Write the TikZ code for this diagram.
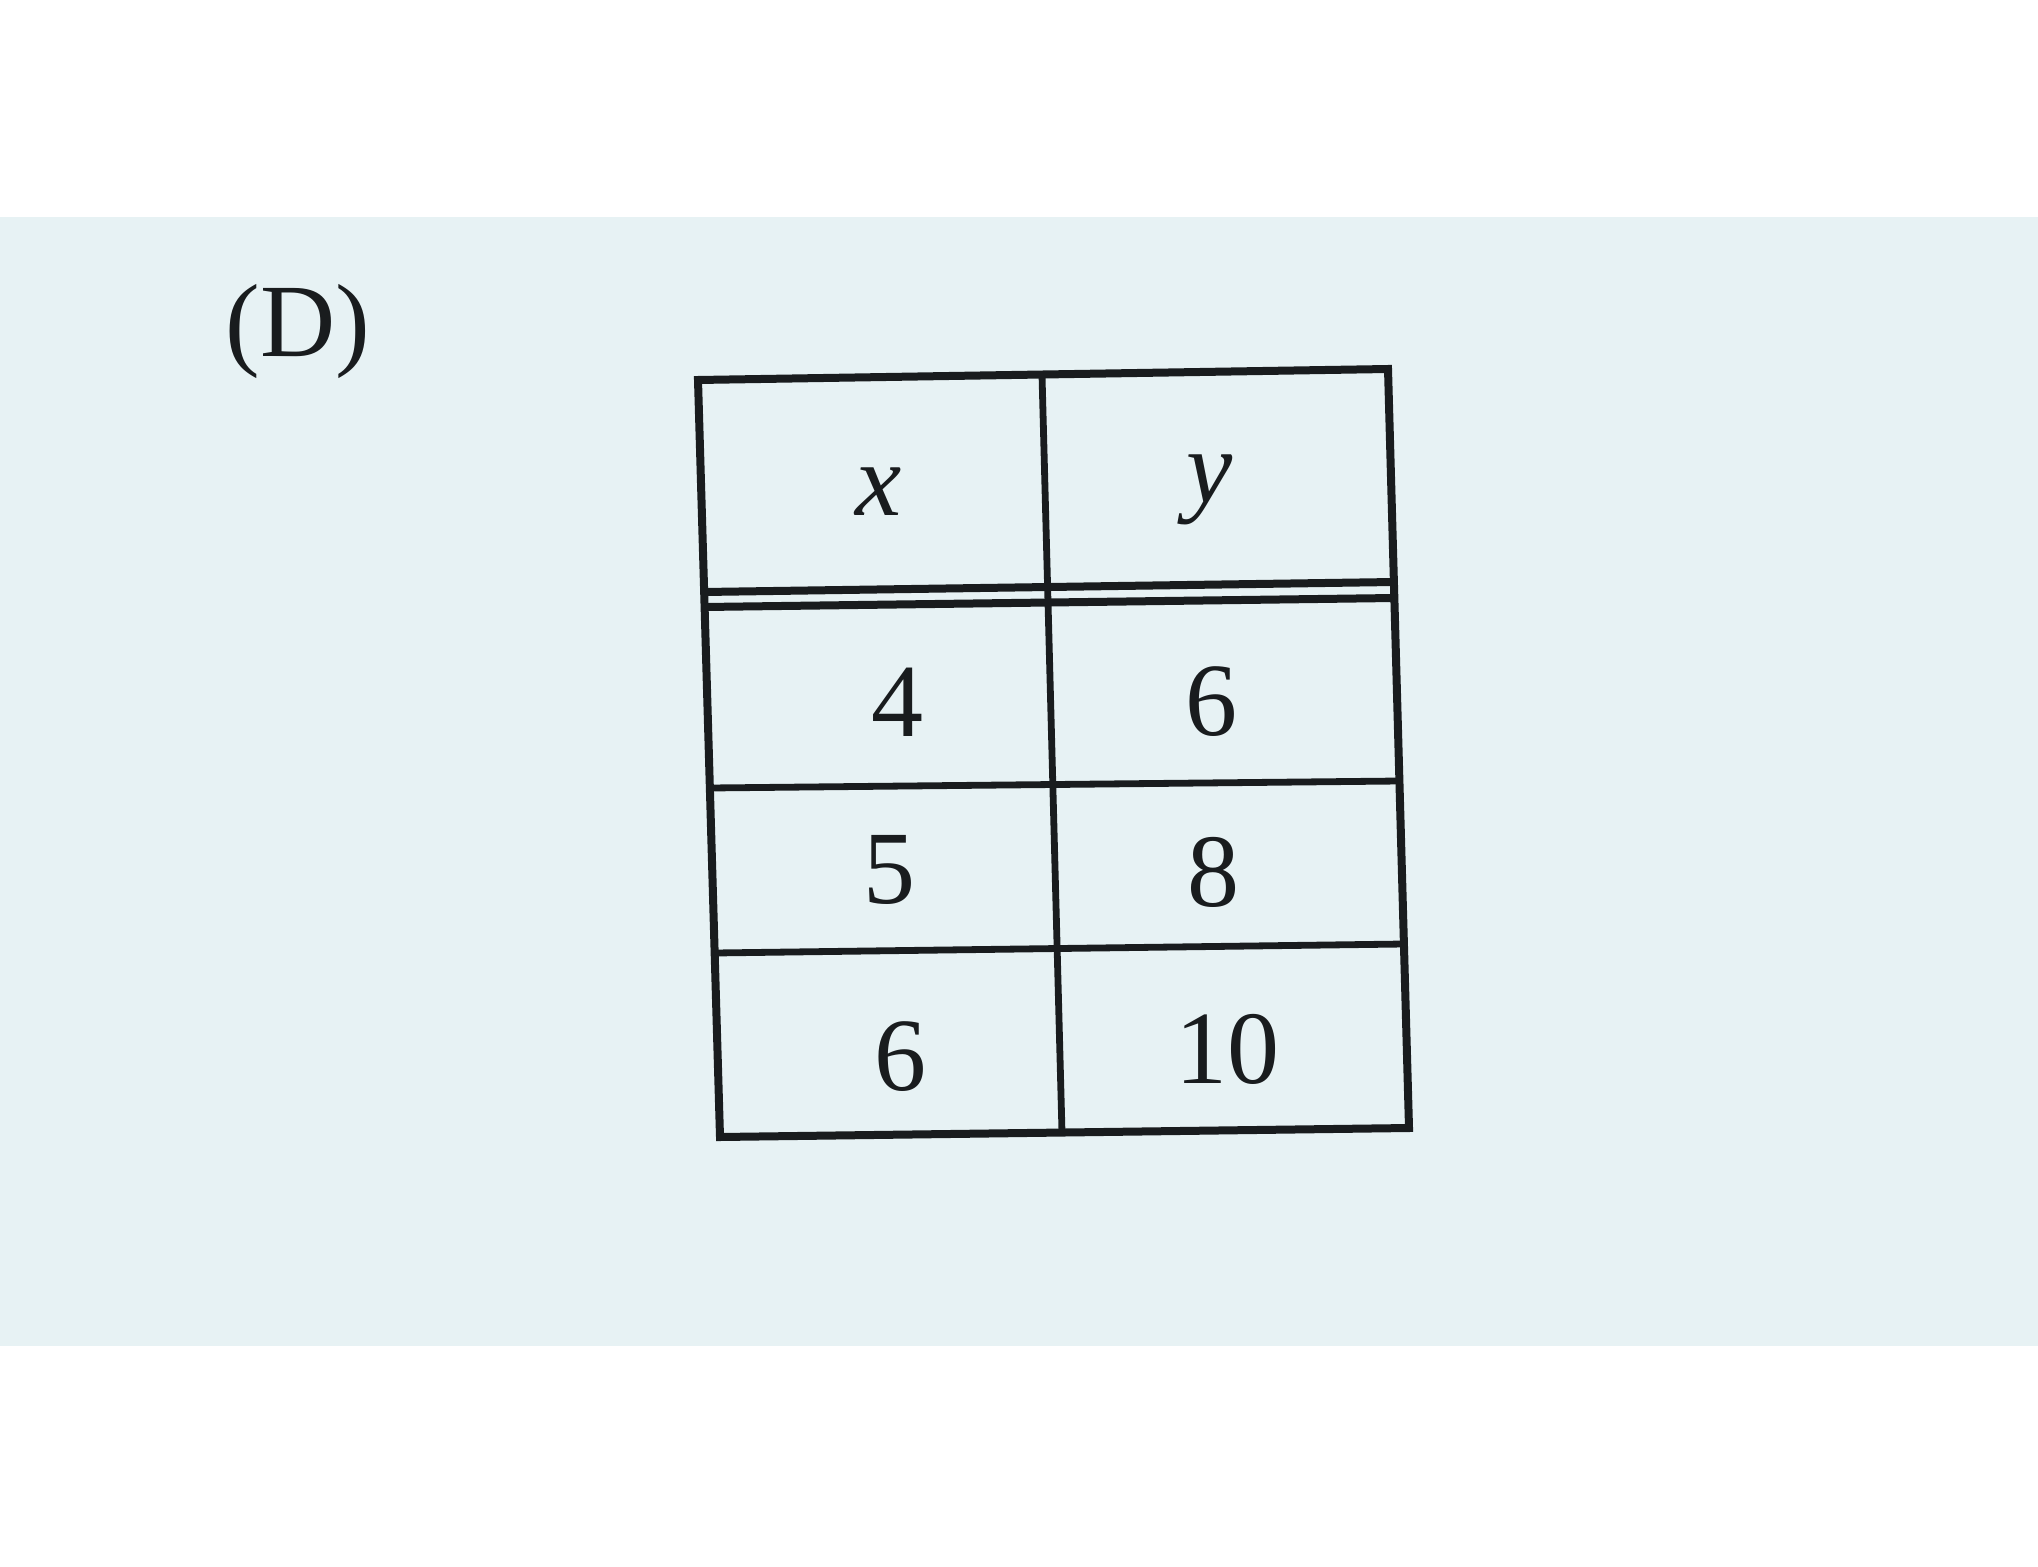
\documentclass[tikz,border=0pt]{standalone}
\usepackage{fontspec}
\setmainfont{Liberation Serif}
\definecolor{paper}{RGB}{231,242,244}
\definecolor{ink}{RGB}{25,28,30}
\begin{document}
\begin{tikzpicture}[x=0.5pt,y=-0.5pt,
  rule/.style={draw=ink,line width=4pt,line cap=butt},
  thinrule/.style={draw=ink,line width=3.4pt,line cap=butt},
  cell/.style={anchor=base,inner sep=0pt,text=ink,font=\fontsize{52}{60}\selectfont}]
\useasboundingbox (0,0) rectangle (2038,1567);
\fill[white] (0,0) rectangle (2038,1567);
\fill[paper] (0,217) rectangle (2038,1346);
% label
\node[cell] (lab) at (298,357) {(D)};
% table corners
\coordinate (tl) at (698,380);
\coordinate (tr) at (1388,369);
\coordinate (bl) at (720,1137);
\coordinate (br) at (1409,1128);
\coordinate (mt) at (1042,375);
\coordinate (mb) at (1062,1133);
\coordinate (a1) at (704.2,592);  \coordinate (a2) at (1393.9,582);
\coordinate (b1) at (704.6,607);  \coordinate (b2) at (1394.3,598);
\coordinate (r1) at (709.9,788);  \coordinate (r2) at (1399.4,781);
\coordinate (s1) at (714.7,953);  \coordinate (s2) at (1403.9,944);
\draw[thinrule] (mt) -- (mb);
\draw[rule] (a1) -- (a2);
\draw[rule] (b1) -- (b2);
\draw[thinrule] (r1) -- (r2);
\draw[thinrule] (s1) -- (s2);
\draw[rule,line join=miter] (tl) -- (tr) -- (br) -- (bl) -- cycle;
% cells
\node[cell] (hx) at (879,515) {\textit{x}};
\node[cell] (hy) at (1210,502) {\textit{y}};
\node[cell] (c41) at (897,736) {4};
\node[cell] (c42) at (1211,735) {6};
\node[cell] (c51) at (889,903) {5};
\node[cell] (c52) at (1213,906) {8};
\node[cell] (c61) at (900,1090) {6};
\node[cell] (c62) at (1227,1083) {10};
\end{tikzpicture}
\end{document}
